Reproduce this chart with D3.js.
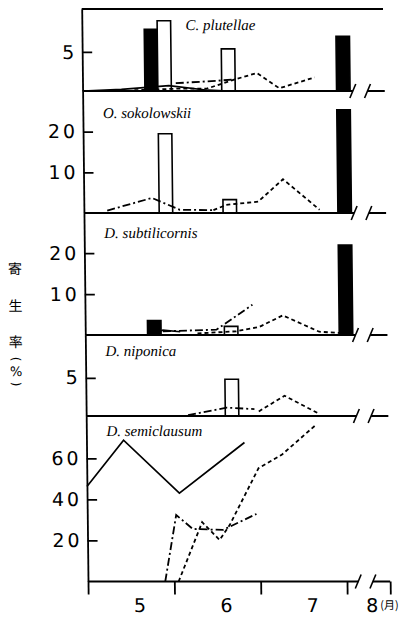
<!DOCTYPE html>
<html>
<head>
<meta charset="utf-8">
<script src="https://cdn.jsdelivr.net/npm/d3@7"></script>
<style>
  body { margin: 0; background: #fff; }
</style>
</head>
<body>
<svg width="416" height="617"></svg>
<script>
// x is in "month" units: 5 = 1 May, 6 = 1 June, ...
var monthTicks   = [5, 6, 7, 8];
var monthLabels  = ["5", "6", "7", "8"];
var monthLabelAt = [5.6, 6.6, 7.6, 8.29];

var species = ["C. plutellae", "O. sokolowskii", "D. subtilicornis", "D. niponica", "D. semiclausum"];
var yTicks  = [[5], [10, 20], [10, 20], [5], [20, 40, 60]];
var yTop    = [10.5, 30, 29.8, 10.6, 80.6];

// bars: same sampling dates in every panel, null = no bar
var barDates  = [5.8, 5.95, 6.69, 8.02];
var barType   = ["filled", "open", "open", "filled"];
var barValues = [
  [7.9, 9.0, 5.4, 7.0],
  [null, 19.5, 3.3, 25.4],
  [3.5, null, 2.1, 22.0],
  [null, null, 4.8, null],
  [null, null, null, null]
];

// lines, one list of [month, %] per panel
var solidLines = [
  [[5.0, 0], [5.45, 0.2], [6.0, 0.7], [6.45, 0.1], [6.7, 0]],
  null,
  [[5.77, 0.2], [5.9, 1.2], [6.1, 0.8]],
  null,
  [[5.0, 46.3], [5.43, 68.8], [6.07, 43], [6.83, 67.7]]
];
var dashDotLines = [
  [[6.08, 1.0], [6.55, 1.3], [6.77, 1.5]],
  [[5.27, 0.6], [5.79, 3.7], [6.11, 0.8], [6.5, 0.7]],
  [[5.9, 0.9], [6.52, 1.3], [6.94, 7.4]],
  [[6.18, 0.1], [6.63, 1.1], [6.95, 0.9]],
  [[5.895, 0], [6.03, 32.4], [6.22, 25.6], [6.57, 25.1], [6.96, 32.9]]
];
var dottedLines = [
  [[5.6, 0.1], [6.1, 0.3], [6.44, 0.3], [6.74, 1.4], [7.02, 2.3], [7.28, 0.35], [7.69, 1.75]],
  [[6.5, 0.7], [6.65, 2.0], [7.02, 2.8], [7.31, 8.3], [7.73, 0.8]],
  [[6.3, 0.4], [6.75, 0.9], [7.02, 2.0], [7.29, 4.8], [7.71, 0.8], [7.95, 0.5]],
  [[7.0, 0.6], [7.30, 2.65], [7.68, 0.4]],
  [[6.05, 0], [6.33, 28.9], [6.53, 20.2], [6.65, 27.6], [6.99, 55.2], [7.26, 61.7], [7.66, 76.3]]
];

var svg = d3.select("svg");
// the scanned figure leans a little to the right
var g = svg.append("g").attr("transform", "skewX(0.63)");

var x = d3.scaleLinear().domain([5, 8]).range([81.6, 340.6]);
var axisEnd = 8.5, breakA = 8.13, breakB = 8.3;
var panelY = [9, 91, 213, 335, 416, 581.5];
var barW = 13.5;

var numFont = "'DejaVu Sans', sans-serif";
var cjkFont = "'Noto Sans CJK JP', sans-serif";

// top border
g.append("line")
  .attr("x1", x(5)).attr("x2", x(8.49))
  .attr("y1", panelY[0]).attr("y2", panelY[0])
  .attr("stroke", "#000").attr("stroke-width", 1.8);

species.forEach(function(name, i) {
  var base = panelY[i + 1];
  var y = d3.scaleLinear().domain([0, yTop[i]]).range([base, panelY[i]]);
  var p = g.append("g");

  // bars
  barDates.forEach(function(d, k) {
    var v = barValues[i][k];
    if (v == null) return;
    p.append("rect")
      .attr("x", x(d) - barW / 2)
      .attr("y", y(v))
      .attr("width", barW)
      .attr("height", base - y(v))
      .attr("fill", barType[k] == "filled" ? "#000" : "#fff")
      .attr("stroke", "#000")
      .attr("stroke-width", 1.6);
  });

  var line = d3.line().x(function(d) { return x(d[0]); }).y(function(d) { return y(d[1]); });

  if (solidLines[i])
    p.append("path").attr("d", line(solidLines[i]))
      .attr("fill", "none").attr("stroke", "#000").attr("stroke-width", 1.7);
  if (dashDotLines[i])
    p.append("path").attr("d", line(dashDotLines[i]))
      .attr("fill", "none").attr("stroke", "#000").attr("stroke-width", 1.8)
      .attr("stroke-dasharray", "8,3,2,3");
  if (dottedLines[i])
    p.append("path").attr("d", line(dottedLines[i]))
      .attr("fill", "none").attr("stroke", "#000").attr("stroke-width", 1.8)
      .attr("stroke-dasharray", "4,3");

  // left axis with inward ticks
  var ax = p.append("g")
    .attr("transform", "translate(" + x(5) + ",0)")
    .call(d3.axisLeft(y).tickValues(yTicks[i]).tickSizeInner(-10).tickSizeOuter(0).tickPadding(5));
  ax.selectAll("path, line").attr("stroke", "#000").attr("stroke-width", 1.8);
  ax.selectAll("text")
    .attr("fill", "#000")
    .style("font-family", numFont)
    .style("font-size", "19px")
    .style("letter-spacing", "3px");

  // baseline with axis break
  p.append("path")
    .attr("d", "M" + x(5) + "," + base + "H" + x(breakA) + "M" + x(breakB) + "," + base + "H" + x(axisEnd))
    .attr("fill", "none").attr("stroke", "#000").attr("stroke-width", 1.8);
  [breakA, breakB].forEach(function(b) {
    p.append("line")
      .attr("x1", x(b) - 3).attr("y1", base + 7)
      .attr("x2", x(b) + 3).attr("y2", base - 7)
      .attr("stroke", "#000").attr("stroke-width", 1.6);
  });

  // species name
  p.append("text")
    .attr("x", i == 0 ? x(6.2) : x(5) + 20)
    .attr("y", panelY[i] + [21, 27, 25, 21, 20.5][i])
    .style("font-family", "'Liberation Serif', serif")
    .style("font-style", "italic")
    .style("font-size", "15px")
    .text(name);
});

// bottom month axis
var bx = g.append("g")
  .attr("transform", "translate(0," + panelY[5] + ")")
  .call(d3.axisBottom(x).tickValues(monthTicks.concat([axisEnd])).tickSize(13).tickFormat(""));
bx.select(".domain").remove();
bx.selectAll("line").attr("stroke", "#000").attr("stroke-width", 1.8);

g.selectAll(".month")
  .data(monthLabels)
  .enter().append("text")
  .attr("class", "month")
  .attr("x", function(d, k) { return x(monthLabelAt[k]); })
  .attr("y", 612)
  .attr("text-anchor", "middle")
  .style("font-family", numFont)
  .style("font-size", "19px")
  .text(function(d) { return d; });

g.append("text")
  .attr("x", x(monthLabelAt[3]) + 8)
  .attr("y", 609)
  .style("font-family", cjkFont)
  .style("font-size", "11px")
  .text("(月)");

// vertical y-axis title: three characters, then (%) with turned brackets
var title = ["寄", "生", "率"];
var titleY = [268, 305, 341];
g.selectAll(".ytitle")
  .data(title)
  .enter().append("text")
  .attr("class", "ytitle")
  .attr("x", 12)
  .attr("y", function(d, k) { return titleY[k]; })
  .attr("text-anchor", "middle")
  .attr("dominant-baseline", "central")
  .style("font-family", cjkFont)
  .style("font-size", "14px")
  .text(function(d) { return d; });

[["(", 359], [")", 384]].forEach(function(b) {
  g.append("text")
    .attr("transform", "translate(12," + b[1] + ") rotate(90)")
    .attr("text-anchor", "middle")
    .attr("dominant-baseline", "central")
    .style("font-family", numFont)
    .style("font-size", "12px")
    .text(b[0]);
});
g.append("text")
  .attr("x", 12).attr("y", 371.5)
  .attr("text-anchor", "middle")
  .attr("dominant-baseline", "central")
  .style("font-family", numFont)
  .style("font-size", "13px")
  .text("%");
</script>
</body>
</html>
